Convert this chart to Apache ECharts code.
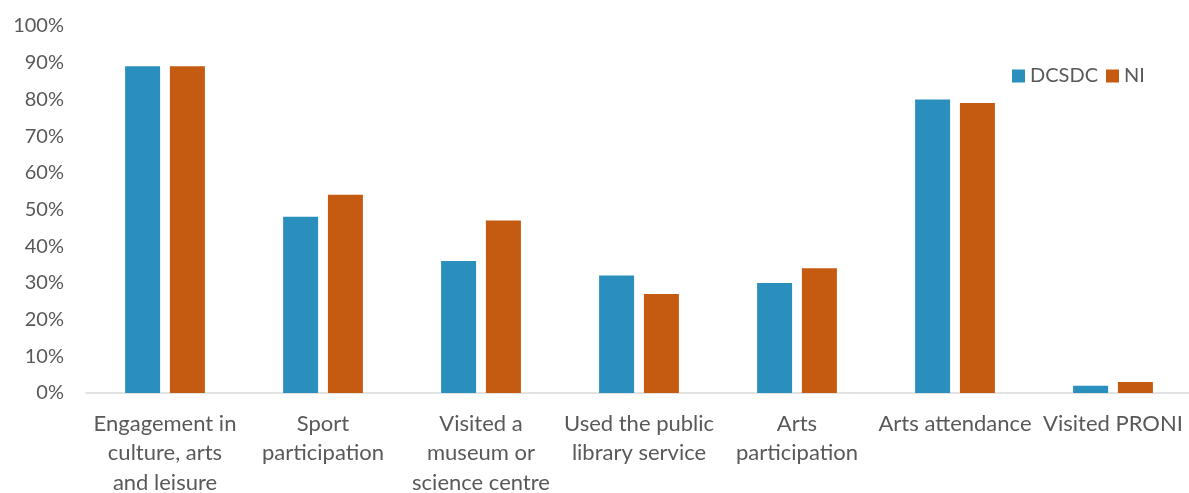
<!DOCTYPE html>
<html><head><meta charset="utf-8">
<script src="https://cdn.jsdelivr.net/npm/echarts@6/dist/echarts.min.js"></script>
<style>html,body{margin:0;padding:0;background:#fff}#c{width:1189px;height:493px}</style>
</head><body><div id="c"></div>
<script>
const categories = ["Engagement in\nculture, arts\nand leisure","Sport\nparticipation","Visited a\nmuseum or\nscience centre","Used the public\nlibrary service","Arts\nparticipation","Arts attendance","Visited PRONI"];
const dcsdc = [89,48,36,32,30,80,2];
const ni = [89,54,47,27,34,79,3];
const yTicks = [0,10,20,30,40,50,60,70,80,90,100];
const font = "Lato, 'Open Sans', sans-serif";
const chart = echarts.init(document.getElementById('c'));
chart.setOption({
  animation:false,
  textStyle:{fontFamily:font},
  legend:{data:["DCSDC","NI"],left:1007,top:61,itemWidth:13,itemHeight:13,itemGap:8,
    textStyle:{fontSize:20,color:'#595959',fontFamily:font}, icon:'rect'},
  grid:{left:86,top:26,width:1106,bottom:100,containLabel:false,outerBoundsMode:'none'},
  xAxis:{type:'category',data:categories,
    axisLine:{lineStyle:{color:'#d9d9d9',width:1.5}},axisTick:{show:false},
    axisLabel:{fontSize:22,color:'#595959',lineHeight:29.5,margin:16,interval:0,fontFamily:font}},
  yAxis:{type:'value',min:yTicks[0],max:yTicks[yTicks.length-1],interval:10,
    splitLine:{show:false},axisLine:{show:false},axisTick:{show:false},
    axisLabel:{fontSize:20,color:'#595959',formatter:'{value}%',margin:22,fontFamily:font}},
  series:[
    {name:'DCSDC',type:'bar',data:dcsdc,barWidth:35,barGap:'28%',itemStyle:{color:'#2a8fbd'}},
    {name:'NI',type:'bar',data:ni,barWidth:35,itemStyle:{color:'#c55a11'}}
  ]
});
</script></body></html>
